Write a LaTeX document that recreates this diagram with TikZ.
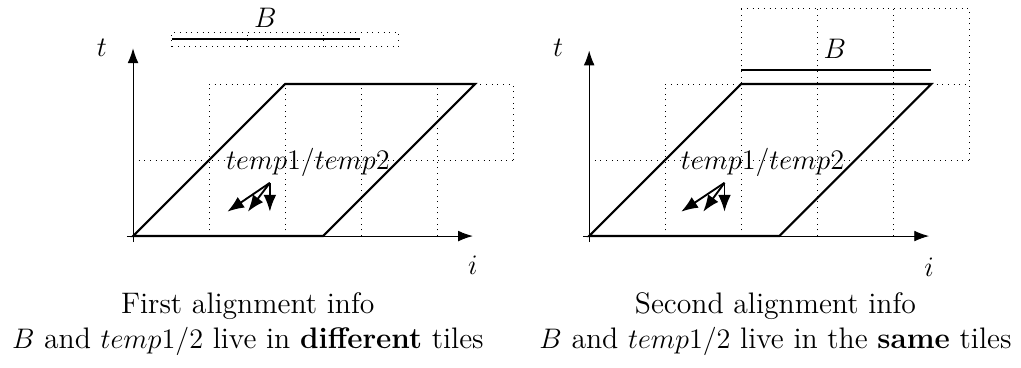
\documentclass[tikz,border=0pt]{standalone}
\usetikzlibrary{arrows.meta,positioning,calc}

\begin{document}
\begin{tikzpicture}[x=1.134cm, y=1.134cm, font=\fontsize{12.6}{14.8}\selectfont,
		axis/.style={-{Latex[length=2.2mm,width=1.6mm]}},
		tilegrid/.style={dotted},
		body/.style={line width=0.9pt},
		dep/.style={thick, -{Latex[length=2.5mm,width=1.9mm]}}]
		
		% Marco de la figura
		\useasboundingbox (-1.75,-1.724) rectangle (11.68,3.105);
		
		% --- Panel izquierdo: first alignment ---
		\begin{scope}
			% Tiles (lineas punteadas)
			\draw[tilegrid] (0,1) -- (5,1);
			\draw[tilegrid] (1,2) -- (5,2);
			\foreach \x in {1,...,4}
				\draw[tilegrid] (\x,0) -- (\x,2);
			\draw[tilegrid] (5,1) -- (5,2);
			
			% Tiles de B
			\draw[tilegrid] (0.51,2.49) rectangle (3.49,2.68);
			\draw[tilegrid] (1.5,2.49) -- (1.5,2.68);
			\draw[tilegrid] (2.5,2.49) -- (2.5,2.68);
			
			% Ejes
			\coordinate (o1) at (0,0);
			\coordinate (xa1) at (-0.08,0);
			\coordinate (xb1) at (4.47,0);
			\coordinate (ya1) at (0,-0.08);
			\coordinate (yb1) at (0,2.47);
			\draw[axis] (xa1) -- (xb1);
			\draw[axis] (ya1) -- (yb1);
			\node (i1) at (4.47,-0.39) {$i$};
			\node (t1) at (-0.41,2.48) {$t$};
			
			% Paralelogramo
			\draw[body] (0,0) -- (2,2) -- (4.5,2) -- (2.5,0) -- cycle;
			
			% Barra B
			\coordinate (ba1) at (0.51,2.59);
			\coordinate (bb1) at (2.99,2.59);
			\draw[body] (ba1) -- (bb1);
			\node (b1) at (1.74,2.87) {$B$};
			
			% temp1/temp2 y dependencias
			\node (tmp1) at (2.3,0.97) {$temp1/temp2$};
			\coordinate (s1) at (1.8,0.70);
			\coordinate (da1) at (1.24,0.32);
			\coordinate (db1) at (1.51,0.32);
			\coordinate (dc1) at (1.8,0.32);
			\draw[dep] (s1) -- (da1);
			\draw[dep] (s1) -- (db1);
			\draw[dep] (s1) -- (dc1);
			
			% Texto
			\node[align=center] (cap1) at (1.51,-1.16)
				{First alignment info\\ $B$ and $temp1/2$ live in \textbf{different} tiles};
		\end{scope}
		
		% --- Panel derecho: second alignment ---
		\begin{scope}[xshift=6*1.134cm]
			% Tiles (lineas punteadas)
			\draw[tilegrid] (0,1) -- (5,1);
			\draw[tilegrid] (1,2) -- (5,2);
			\draw[tilegrid] (2,3) -- (5,3);
			\draw[tilegrid] (1,0) -- (1,2);
			\foreach \x in {2,...,4}
				\draw[tilegrid] (\x,0) -- (\x,3);
			\draw[tilegrid] (5,1) -- (5,3);
			
			% Ejes
			\coordinate (o2) at (0,0);
			\coordinate (xa2) at (-0.08,0);
			\coordinate (xb2) at (4.47,0);
			\coordinate (ya2) at (0,-0.08);
			\coordinate (yb2) at (0,2.44);
			\draw[axis] (xa2) -- (xb2);
			\draw[axis] (ya2) -- (yb2);
			\node (i2) at (4.47,-0.41) {$i$};
			\node (t2) at (-0.41,2.48) {$t$};
			
			% Paralelogramo
			\draw[body] (0,0) -- (2,2) -- (4.5,2) -- (2.5,0) -- cycle;
			
			% Barra B
			\coordinate (ba2) at (2,2.18);
			\coordinate (bb2) at (4.49,2.18);
			\draw[body] (ba2) -- (bb2);
			\node (b2) at (3.23,2.46) {$B$};
			
			% temp1/temp2 y dependencias
			\node (tmp2) at (2.28,0.97) {$temp1/temp2$};
			\coordinate (s2) at (1.78,0.70);
			\coordinate (da2) at (1.21,0.32);
			\coordinate (db2) at (1.50,0.32);
			\coordinate (dc2) at (1.78,0.32);
			\draw[dep] (s2) -- (da2);
			\draw[dep] (s2) -- (db2);
			\draw[dep] (s2) -- (dc2);
			
			% Texto
			\node[align=center] (cap2) at (2.45,-1.16)
				{Second alignment info\\ $B$ and $temp1/2$ live in the \textbf{same} tiles};
		\end{scope}
		
	\end{tikzpicture}
\end{document}
